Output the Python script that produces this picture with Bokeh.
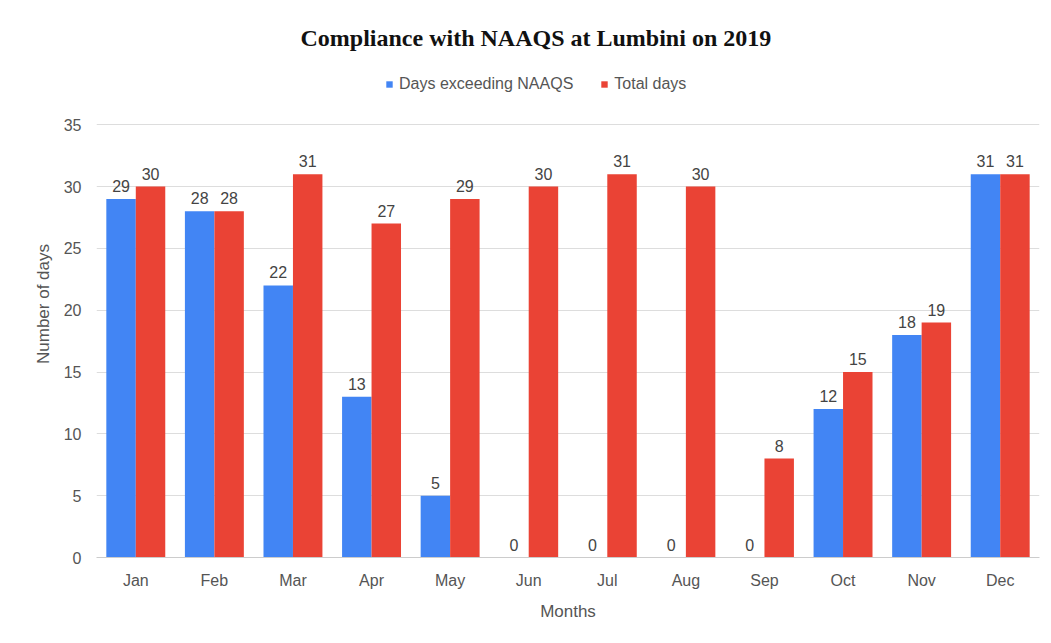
from bokeh.plotting import figure
from bokeh.models import ColumnDataSource, Legend, LegendItem, Title, FactorRange
from bokeh.transform import dodge
from bokeh.embed import file_html
from bokeh.resources import INLINE
from bokeh.core.properties import value

months = ["Jan", "Feb", "Mar", "Apr", "May", "Jun", "Jul", "Aug", "Sep", "Oct", "Nov", "Dec"]
exceeding = [29, 28, 22, 13, 5, 0, 0, 0, 0, 12, 18, 31]
total = [30, 28, 31, 27, 29, 30, 31, 30, 8, 15, 19, 31]
series_names = ["Days exceeding NAAQS", "Total days"]
colors = ["#4285F4", "#EA4335"]
y_ticks = [0, 5, 10, 15, 20, 25, 30, 35]

src = ColumnDataSource(dict(month=months, exc=exceeding, tot=total,
                            exc_lbl=[str(v) for v in exceeding],
                            tot_lbl=[str(v) for v in total]))

p = figure(x_range=FactorRange(*months), y_range=(0, 41), width=1045, height=637,
           output_backend="svg", toolbar_location=None,
           min_border_left=96, min_border_right=6, min_border_top=50, min_border_bottom=80)

bw = 0.375
r1 = p.vbar(x=dodge("month", -bw / 2, range=p.x_range), top="exc", width=bw, source=src,
            fill_color=colors[0], line_color=None)
r2 = p.vbar(x=dodge("month", bw / 2, range=p.x_range), top="tot", width=bw, source=src,
            fill_color=colors[1], line_color=None)

lbl_font = value("Liberation Sans")
p.text(x=dodge("month", -bw / 2, range=p.x_range), y="exc", text="exc_lbl", source=src,
       text_align="center", text_baseline="alphabetic", y_offset=-13,
       text_font=lbl_font, text_font_size="16px", text_color="#444444")
p.text(x=dodge("month", bw / 2, range=p.x_range), y="tot", text="tot_lbl", source=src,
       text_align="center", text_baseline="alphabetic", y_offset=-13,
       text_font=lbl_font, text_font_size="16px", text_color="#444444")

# axes
p.yaxis.ticker = y_ticks
for ax in (p.xaxis, p.yaxis):
    ax.axis_line_color = None
    ax.major_tick_line_color = None
    ax.minor_tick_line_color = None
    ax.major_tick_out = 0
    ax.major_tick_in = 0
    ax.major_label_text_font = "Liberation Sans"
    ax.major_label_text_font_size = "16px"
    ax.major_label_text_color = "#555555"
    ax.axis_label_text_font = "Liberation Sans"
    ax.axis_label_text_font_size = "17px"
    ax.axis_label_text_font_style = "normal"
    ax.axis_label_text_color = "#555555"
p.xaxis.axis_line_color = "#cccccc"
p.xaxis.major_label_standoff = 14
p.yaxis.major_label_standoff = 15
p.xaxis.axis_label = "Months"
p.yaxis.axis_label = "Number of days"
p.xaxis.axis_label_standoff = 10
p.yaxis.axis_label_standoff = 8

p.xgrid.grid_line_color = None
p.ygrid.grid_line_color = "#dddddd"
p.ygrid.grid_line_width = 1
p.outline_line_color = None
p.x_range.range_padding = 0

legend = Legend(items=[LegendItem(label=series_names[0], renderers=[r1]),
                       LegendItem(label=series_names[1], renderers=[r2])],
                orientation="horizontal", location=(289, 464),
                label_text_font="Liberation Sans", label_text_font_size="16px",
                label_text_color="#555555", glyph_width=8, glyph_height=8,
                label_standoff=6, spacing=27, border_line_color=None,
                background_fill_alpha=0, padding=0, margin=0)
p.add_layout(legend, "center")

p.title = Title(text="Compliance with NAAQS at Lumbini on 2019", align="left",
                text_font="Liberation Serif", text_font_size="24px",
                text_font_style="bold", text_color="#111111", offset=204, standoff=0)

open("out.html", "w").write(file_html(p, INLINE))
